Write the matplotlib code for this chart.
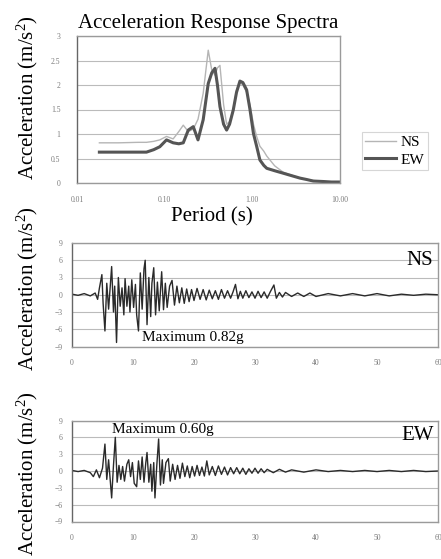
import numpy as np
import matplotlib
matplotlib.use('Agg')
import matplotlib.pyplot as plt

plt.rcParams['font.family'] = ['Liberation Serif', 'DejaVu Serif']
plt.rcParams['mathtext.fontset'] = 'custom'
plt.rcParams['mathtext.rm'] = 'Liberation Serif'
plt.rcParams['mathtext.it'] = 'Liberation Serif'
plt.rcParams['mathtext.default'] = 'regular'

# response spectra (period in s, acceleration in m/s2)
periods = [0.018, 0.03, 0.05, 0.062, 0.075, 0.088, 0.105, 0.125, 0.145, 0.163,
           0.186, 0.212, 0.24, 0.275, 0.314, 0.345, 0.375, 0.40, 0.427, 0.47,
           0.509, 0.55, 0.606, 0.66, 0.722, 0.78, 0.861, 0.94, 1.03, 1.12,
           1.22, 1.35, 1.46, 1.8, 2.25, 2.8, 3.49, 4.2, 4.95, 6.5,
           8.0, 10.0]
spec_ns = [0.82, 0.82, 0.83, 0.83, 0.85, 0.88, 0.95, 0.90, 1.05, 1.18,
           1.05, 1.10, 1.30, 1.83, 2.71, 2.30, 2.20, 2.35, 2.40, 1.60,
           1.20, 1.25, 1.50, 1.90, 2.05, 2.00, 1.85, 1.60, 1.20, 0.95,
           0.75, 0.65, 0.55, 0.35, 0.22, 0.16, 0.10, 0.07, 0.05, 0.03,
           0.02, 0.02]
spec_ew = [0.63, 0.63, 0.63, 0.63, 0.68, 0.74, 0.88, 0.82, 0.80, 0.82,
           1.08, 1.15, 0.88, 1.29, 2.03, 2.25, 2.34, 2.00, 1.56, 1.20,
           1.08, 1.20, 1.49, 1.85, 2.08, 2.05, 1.90, 1.50, 1.01, 0.75,
           0.47, 0.36, 0.30, 0.25, 0.20, 0.15, 0.10, 0.07, 0.04, 0.03,
           0.02, 0.02]

# accelerograms (time in s, acceleration in m/s2)
ns_time = [0, 1, 2, 3, 3.8, 4.2, 4.5, 4.9, 5.1, 5.4,
           5.7, 6.0, 6.5, 6.8, 7.0, 7.3, 7.6, 7.9, 8.2, 8.5,
           8.7, 9.0, 9.3, 9.5, 9.8, 10.1, 10.4, 10.6, 10.9, 11.2,
           11.5, 11.8, 12.0, 12.3, 12.6, 12.9, 13.1, 13.4, 13.7, 14.0,
           14.3, 14.7, 15.0, 15.3, 15.6, 16.0, 16.4, 16.8, 17.2, 17.6,
           18.0, 18.4, 18.8, 19.2, 19.6, 20.0, 20.5, 21.0, 21.5, 22.0,
           22.5, 23.0, 23.5, 24.0, 24.5, 25.0, 25.5, 26.0, 26.4, 26.8,
           27.2, 27.6, 28.0, 28.5, 29.0, 29.5, 30.0, 30.5, 31.0, 31.5,
           32.0, 32.5, 33.1, 33.5, 34.0, 34.5, 35.0, 36, 37, 38,
           39, 40, 42, 44, 46, 48, 50, 52, 54, 56,
           58, 60]
ns_accel = [0.1, -0.1, 0.2, -0.2, 0.3, -0.8, 1.2, 3.5, -1.5, -6.3,
            2.0, -2.5, 4.9, -3.0, 1.5, -8.3, 3.0, -2.0, 1.2, -3.5,
            2.8, -2.0, 1.5, -3.0, 2.6, -2.2, 1.8, -3.5, -6.3, 3.8,
            -2.5, 4.5, 6.0, -5.2, 3.0, -3.8, 2.0, 4.7, -3.5, 2.2,
            -2.8, 4.0, -2.6, 2.0, -2.2, 1.5, 2.5, -1.8, 1.5, -1.4,
            1.2, -1.5, 1.0, -1.2, 0.9, -1.0, 1.1, -0.8, 0.9, -0.9,
            0.8, -0.7, 0.7, -0.8, 0.9, -0.6, 0.7, -0.6, 0.5, 1.8,
            -0.7, 0.6, -0.6, 0.7, -0.5, 0.5, -0.6, 0.6, -0.5, 0.5,
            -0.6, 0.5, 1.7, -0.6, 0.4, -0.4, 0.4, -0.3, 0.3, -0.3,
            0.3, -0.3, 0.2, -0.2, 0.2, -0.2, 0.2, -0.2, 0.1, -0.1,
            0.1, 0.0]

ew_time = [0, 1, 2, 3, 3.5, 4.0, 4.5, 5.0, 5.4, 5.7,
           6.0, 6.5, 6.8, 7.1, 7.4, 7.7, 8.0, 8.3, 8.6, 9.0,
           9.3, 9.6, 9.9, 10.2, 10.6, 10.9, 11.2, 11.5, 11.8, 12.1,
           12.3, 12.6, 12.9, 13.1, 13.4, 13.6, 13.9, 14.2, 14.5, 14.8,
           15.0, 15.4, 15.8, 16.1, 16.5, 16.9, 17.3, 17.7, 18.1, 18.5,
           18.9, 19.3, 19.7, 20.1, 20.5, 20.9, 21.3, 21.7, 22.1, 22.5,
           23.0, 23.5, 24.0, 24.5, 25.0, 25.5, 26.0, 26.5, 27.0, 27.5,
           28.0, 28.5, 29.0, 29.5, 30.0, 30.5, 31.0, 31.5, 32.0, 33.0,
           34.0, 35.0, 36.0, 38.0, 40.0, 42.0, 44.0, 46.0, 48.0, 50.0,
           52.0, 54.0, 56.0, 58.0, 60.0]
ew_accel = [0.1, -0.1, 0.1, -0.3, -1.0, 0.2, -1.2, 0.5, 4.8, -1.5,
            2.0, -4.8, 1.0, 6.0, -2.0, 1.0, -1.5, 0.8, -1.8, 1.2,
            2.0, -1.0, 1.5, -2.2, -2.8, 1.8, -1.5, 2.5, -2.0, 1.5,
            3.3, -2.0, 1.2, -3.6, 1.5, -4.8, 1.0, 5.7, -2.5, 2.0,
            -2.2, 1.5, 2.2, -1.8, 1.2, -1.5, 1.0, -1.3, 1.4, -1.0,
            0.9, -1.2, 0.8, -0.9, 1.0, -0.8, 0.7, -0.9, 1.8, -0.7,
            0.8, -0.8, 0.9, -0.6, 0.7, -0.7, 0.6, -0.5, 0.6, -0.5,
            0.5, -0.6, 0.4, -0.4, 0.5, -0.4, 0.4, -0.3, 0.3, -0.3,
            0.3, -0.2, 0.2, -0.2, 0.2, -0.1, 0.1, -0.1, 0.1, -0.1,
            0.1, -0.1, 0.1, -0.1, 0.0]

W, H = 441, 559
fig = plt.figure(figsize=(W / 100, H / 100), dpi=100)


def box(l, t, r, b):
    return [l / W, 1 - b / H, (r - l) / W, (b - t) / H]


def style(ax):
    for s in ax.spines.values():
        s.set_color('#9a9a9a')
        s.set_linewidth(1.0)
    ax.spines['left'].set_color('#666666')
    ax.tick_params(length=0, labelsize=5.5, labelcolor='#7a7a7a')
    ax.grid(axis='y', color='#bbbbbb', lw=0.8)
    ax.set_axisbelow(True)


# top: response spectra
ax1 = fig.add_axes(box(77, 36, 340, 183))
style(ax1)
ax1.plot(periods, spec_ns, color='#b5b5b5', lw=1.0, label='NS')
ax1.plot(periods, spec_ew, color='#555555', lw=2.2, label='EW')
ax1.set_xscale('log')
ax1.set_xlim(0.01, 10)
ax1.set_ylim(0, 3)
ax1.set_yticks([0, 0.5, 1, 1.5, 2, 2.5, 3])
ax1.set_yticklabels(['0', '0.5', '1', '1.5', '2', '2.5', '3'])
ax1.set_xticks([0.01, 0.1, 1, 10])
ax1.set_xticklabels(['0.01', '0.10', '1.00', '10.00'])
ax1.minorticks_off()
ax1.tick_params(axis='y', pad=12)
ax1.tick_params(axis='x', pad=9)
ax1.set_title('Acceleration Response Spectra', fontsize=15, pad=6)
leg = ax1.legend(loc='upper left', bbox_to_anchor=(354 / W, 1 - 124 / H),
                 bbox_transform=fig.transFigure, fontsize=11,
                 frameon=True, fancybox=False, handlelength=2.0,
                 borderpad=0.25, labelspacing=0.25, handletextpad=0.3)
leg.get_frame().set_edgecolor('#cccccc')
leg.get_frame().set_linewidth(0.8)
fig.text(212 / W, 1 - 217 / H, 'Period (s)', fontsize=15, ha='center', va='center')

# middle: NS accelerogram
ax2 = fig.add_axes(box(72, 243, 438, 346.5))
style(ax2)
ax2.plot(ns_time, ns_accel, color='#2a2a2a', lw=1.0)
ax2.set_xlim(0, 60)
ax2.set_ylim(-9, 9)
ax2.set_yticks([-9, -6, -3, 0, 3, 6, 9])
ax2.set_xticks([0, 10, 20, 30, 40, 50, 60])
ax2.tick_params(axis='y', pad=7)
ax2.tick_params(axis='x', pad=9)
ax2.text(0.985, 0.83, 'NS', transform=ax2.transAxes, fontsize=15,
         ha='right', va='center')
fig.text(142 / W, 1 - 338 / H, 'Maximum 0.82g', fontsize=11, ha='left', va='center')

# bottom: EW accelerogram
ax3 = fig.add_axes(box(72, 420.5, 438, 521.5))
style(ax3)
ax3.plot(ew_time, ew_accel, color='#2a2a2a', lw=1.0)
ax3.set_xlim(0, 60)
ax3.set_ylim(-9, 9)
ax3.set_yticks([-9, -6, -3, 0, 3, 6, 9])
ax3.set_xticks([0, 10, 20, 30, 40, 50, 60])
ax3.tick_params(axis='y', pad=7)
ax3.tick_params(axis='x', pad=9)
ax3.text(0.99, 0.85, 'EW', transform=ax3.transAxes, fontsize=15,
         ha='right', va='center')
fig.text(112 / W, 1 - 430 / H, 'Maximum 0.60g', fontsize=11, ha='left', va='center')

ylab = 'Acceleration (m/s$^{2}$)'
for yc in [98, 289, 474]:
    fig.text(27 / W, 1 - yc / H, ylab, fontsize=15, rotation=90,
             ha='center', va='center')

fig.savefig('out.png', dpi=100)
